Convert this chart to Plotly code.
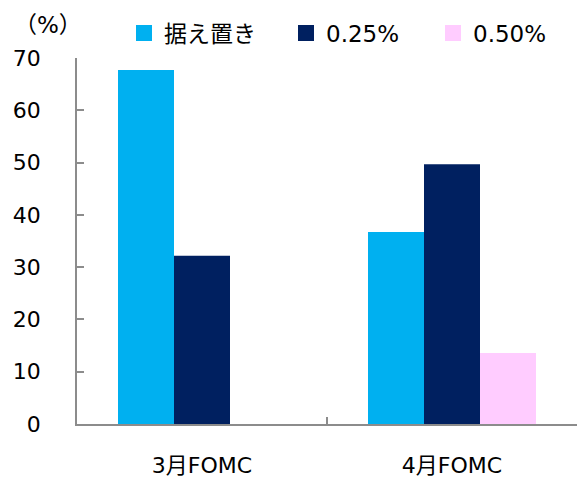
import plotly.graph_objects as go

categories = ["3月FOMC", "4月FOMC"]
series_names = ["据え置き", "0.25%", "0.50%"]
hold = [67.7, 36.7]
hike25 = [32.2, 49.7]
hike50 = [None, 13.6]
colors = ["#00B0F0", "#002060", "#FFCCFF"]

FONT = "DejaVu Sans, Noto Sans CJK JP"
legend_ids = ["legend", "legend2", "legend3"]
legend_x = [0.094, 0.418, 0.712]

fig = go.Figure()
for name, vals, c in zip(series_names, [hold, hike25, hike50], colors):
    fig.add_trace(go.Bar(x=categories, y=vals, name=name, showlegend=False,
                         marker=dict(color=c, line=dict(width=0))))
# legend keys (no data drawn)
for name, c, lid in zip(series_names, colors, legend_ids):
    fig.add_trace(go.Scatter(x=[None], y=[None], mode="markers", name=name, legend=lid,
                             marker=dict(symbol="square", size=16, color=c)))

legend_common = dict(orientation="h", y=1.068, yanchor="middle", xanchor="left",
                     font=dict(size=23, family=FONT), bgcolor="rgba(0,0,0,0)",
                     itemwidth=30)
layout_legends = {lid: dict(x=lx, **legend_common) for lid, lx in zip(legend_ids, legend_x)}

fig.update_layout(
    width=584, height=478,
    margin=dict(l=77, r=7, t=58, b=54, autoexpand=False),
    barmode="group", bargap=0.328, bargroupgap=0,
    plot_bgcolor="white", paper_bgcolor="white",
    font=dict(family=FONT, size=22, color="#000000"),
    showlegend=True,
    annotations=[dict(text="（%）", x=-0.058, y=1.09, xref="paper", yref="paper",
                      xanchor="center", yanchor="middle", showarrow=False,
                      font=dict(size=23, family=FONT))],
    **layout_legends,
)
fig.update_yaxes(range=[0, 70], dtick=10, showgrid=False, zeroline=False, automargin=False,
                 showline=True, linecolor="#8c8c8c", linewidth=1.5,
                 ticks="inside", ticklen=7, tickcolor="#8c8c8c", tickwidth=1.5,
                 tickfont=dict(size=22), ticklabelstandoff=30)
fig.update_xaxes(showgrid=False, showline=True, linecolor="#8c8c8c", linewidth=1.5,
                 automargin=False,
                 ticks="inside", tickson="boundaries", ticklen=7, tickcolor="#8c8c8c",
                 tickwidth=1.5, tickfont=dict(size=22), ticklabelstandoff=21)

fig.write_html("out.html")
